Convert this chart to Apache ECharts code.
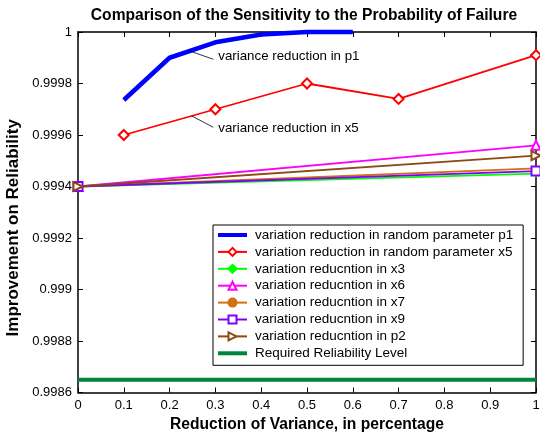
<!DOCTYPE html>
<html>
<head>
<meta charset="utf-8">
<script src="https://cdn.jsdelivr.net/npm/echarts@6/dist/echarts.min.js"></script>
<style>
  html, body { margin: 0; padding: 0; background: #fff; }
  #chart { width: 540px; height: 436px; }
</style>
</head>
<body>
<div id="chart"></div>
<script>
// values
var xP1 = [0.1, 0.2, 0.3, 0.4, 0.5, 0.6];
var p1 = [0.999736, 0.9999, 0.99996, 0.99999, 1, 1];
var xX5 = [0.1, 0.3, 0.5, 0.7, 1];
var x5 = [0.9996, 0.9997, 0.9998, 0.99974, 0.99991];
var xEnds = [0, 1];
var x3 = [0.9994, 0.99945];
var x6 = [0.9994, 0.99956];
var x7 = [0.9994, 0.99947];
var x9 = [0.9994, 0.99946];
var p2 = [0.9994, 0.99952];
var required = [0.99865, 0.99865];

// annotation pointer lines (data coords)
var noteP1 = [[0.2445, 0.999926], [0.2954, 0.999894]];
var noteX5 = [[0.2483, 0.999674], [0.2954, 0.99963]];

var names = [
  'variation reduction in random parameter p1',
  'variation reduction in random parameter x5',
  'variation reducntion in x3',
  'variation reducntion in x6',
  'variation reducntion in x7',
  'variation reducntion in x9',
  'variation reducntion in p2',
  'Required Reliability Level'
];

function pairs(xs, ys) {
  var out = [];
  for (var i = 0; i < xs.length; i++) {
    out.push([xs[i], ys[i]]);
  }
  return out;
}

var FONT = 'Liberation Sans';

function lineSeries(name, data, color, width, symbol, size) {
  return {
    name: name,
    type: 'line',
    data: data,
    symbol: symbol,
    symbolSize: size,
    showSymbol: symbol !== 'none',
    clip: false,
    lineStyle: { color: color, width: width },
    itemStyle: { color: color, borderColor: color, borderWidth: 1.5 },
    emphasis: { disabled: true },
    animation: false
  };
}

function noteSeries(pts, text, dy) {
  return {
    type: 'line',
    data: pts,
    symbol: 'none',
    silent: true,
    lineStyle: { color: '#000', width: 0.8 },
    endLabel: {
      show: true,
      distance: 5,
      offset: [0, dy],
      formatter: text,
      color: '#000',
      fontFamily: FONT,
      fontSize: 13.3
    },
    animation: false
  };
}

var chart = echarts.init(document.getElementById('chart'));

var yFmt = function (v) { return String(parseFloat(v.toFixed(4))); };
var xFmt = function (v) { return String(parseFloat(v.toFixed(1))); };

var legendData = names.map(function (n, i) {
  if (i === 0 || i === 7) {
    return { name: n, itemStyle: { opacity: 0 }, lineStyle: { width: 4 } };
  }
  return { name: n };
});

var option = {
  backgroundColor: '#fff',
  title: {
    text: 'Comparison of the Sensitivity to the Probability of Failure',
    left: 299,
    textAlign: 'center',
    top: 3,
    textStyle: { fontFamily: FONT, fontSize: 15.6, fontWeight: 'bold', color: '#000' }
  },
  grid: { left: 78, right: 4, top: 32, bottom: 43.5, outerBoundsMode: 'none' },
  legend: {
    data: legendData,
    orient: 'vertical',
    left: 213,
    top: 225,
    padding: [3, 10, 5, 3],
    itemGap: 2.9,
    itemWidth: 29,
    itemHeight: 10,
    backgroundColor: '#fff',
    borderColor: '#000',
    borderWidth: 1,
    borderRadius: 0,
    textStyle: { fontFamily: FONT, fontSize: 13.5, lineHeight: 14, color: '#000', padding: [0, 0, 0, 3] }
  },
  xAxis: [
    {
      type: 'value', min: 0, max: 1, interval: 0.1,
      name: 'Reduction of Variance, in percentage',
      nameLocation: 'middle', nameGap: 23,
      nameTextStyle: { fontFamily: FONT, fontSize: 15.6, fontWeight: 'bold', color: '#000' },
      axisLine: { lineStyle: { color: '#000', width: 1.5 } },
      axisTick: { inside: true, length: 5, lineStyle: { color: '#000' } },
      axisLabel: { fontFamily: FONT, fontSize: 13, color: '#000', margin: 6, formatter: xFmt },
      splitLine: { show: false }
    },
    {
      type: 'value', min: 0, max: 1, interval: 0.1, position: 'top',
      axisLine: { show: true, onZero: false, lineStyle: { color: '#000', width: 1.5 } },
      axisTick: { inside: true, length: 5, lineStyle: { color: '#000' } },
      axisLabel: { show: false },
      splitLine: { show: false }
    }
  ],
  yAxis: [
    {
      type: 'value', min: 0.9986, max: 1, interval: 0.0002,
      name: 'Improvement on Reliability',
      nameLocation: 'middle', nameGap: 51,
      nameTextStyle: { fontFamily: FONT, fontSize: 17, fontWeight: 'bold', color: '#000', padding: [0, 31, 0, 0] },
      axisLine: { show: true, lineStyle: { color: '#000', width: 1.5 } },
      axisTick: { show: true, inside: true, length: 5, lineStyle: { color: '#000' } },
      axisLabel: { fontFamily: FONT, fontSize: 13, color: '#000', margin: 6, formatter: yFmt },
      splitLine: { show: false }
    },
    {
      type: 'value', min: 0.9986, max: 1, interval: 0.0002, position: 'right',
      axisLine: { show: true, onZero: false, lineStyle: { color: '#000', width: 1.5 } },
      axisTick: { show: true, inside: true, length: 5, lineStyle: { color: '#000' } },
      axisLabel: { show: false },
      splitLine: { show: false }
    }
  ],
  series: [
    lineSeries(names[7], pairs(xEnds, required), '#00853f', 4, 'none', 0),
    lineSeries(names[0], pairs(xP1, p1), '#0000ff', 4.5, 'none', 0),
    lineSeries(names[1], pairs(xX5, x5), '#ff0000', 1.8, 'emptyDiamond', 10),
    lineSeries(names[2], pairs(xEnds, x3), '#00ff00', 1.8, 'diamond', 6),
    lineSeries(names[3], pairs(xEnds, x6), '#ff00ff', 1.8, 'emptyTriangle', 9),
    lineSeries(names[4], pairs(xEnds, x7), '#d2700f', 1.8, 'circle', 4),
    lineSeries(names[5], pairs(xEnds, x9), '#8000ff', 1.8, 'emptyRect', 9),
    lineSeries(names[6], pairs(xEnds, p2), '#8b4a10', 1.8, 'emptyTriangle', 9),
    noteSeries(noteP1, 'variance reduction in p1', -2.6),
    noteSeries(noteX5, 'variance reduction in x5', 1)
  ]
};

// brown p2 marker points right
option.series[7].symbolRotate = -90;

chart.setOption(option);
</script>
</body>
</html>
